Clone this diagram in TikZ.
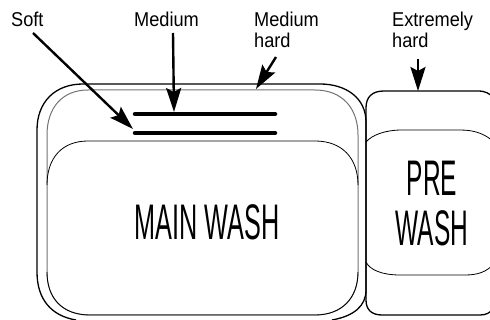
\documentclass[tikz,border=0pt]{standalone}
\usepackage{fontspec}
\setmainfont{Liberation Sans}
\usetikzlibrary{arrows.meta}
\tikzset{
 lab/.style={inner sep=0pt,align=left,anchor=north west,font=\fontsize{20}{21}\selectfont,xscale=.91},
 big/.style={inner sep=0pt,align=center,font=\fontsize{50}{50}\selectfont,xscale=.49},
 bigmain/.style={big,xscale=1.03},
 ptr/.style={line width=2.4pt,-{Stealth[length=24pt,width=15pt,inset=4pt]}},
 dark/.style={line width=1.3pt,black},
 soft/.style={line width=1pt,black!55},
 thin/.style={line width=.8pt,black},
 bar/.style={line width=4.5pt,line cap=round}
}
\begin{document}
\begin{tikzpicture}[x=1pt,y=-1pt]
\useasboundingbox (0,0) rectangle (490,320);
\begin{scope}
\clip (0,0) rectangle (490,320);
% outer tray
\draw[dark] (76,320) .. controls (52,316) and (37,300) .. (37,272) -- (37,130) .. controls (37,102) and (55,84) .. (83,84) -- (320,84) .. controls (346,84) and (366,98) .. (366,122) -- (366,290) .. controls (366,306) and (354,316) .. (332,320);
% main compartment
\draw[soft] (47,135) .. controls (47,108) and (62,90) .. (88,90) -- (315,90) .. controls (342,90) and (358,108) .. (358,135) -- (358,272) .. controls (358,298) and (342,315) .. (315,315) -- (90,315) .. controls (62,315) and (47,298) .. (47,272) -- cycle;
\draw[thin] (47,185) .. controls (47,158) and (62,141) .. (88,141) -- (315,141) .. controls (342,141) and (358,158) .. (358,185);
\draw[thin] (47,272) .. controls (47,298) and (62,315) .. (90,315) -- (315,315) .. controls (342,315) and (358,298) .. (358,272);
% pre wash compartment
\draw[dark] (366,122) -- (366,108) .. controls (366,97) and (372,91) .. (384,91) -- (478,91) .. controls (486,91) and (490,94) .. (494,98);
\draw[dark] (366,122) -- (366,300) .. controls (366,310) and (372,315) .. (382,315) -- (480,315) .. controls (486,315) and (490,313) .. (494,308);
\draw[thin] (366,142) .. controls (372,135) and (385,130) .. (402,130) -- (460,130) .. controls (475,130) and (485,134) .. (494,142);
\draw[thin] (366,262) .. controls (370,270) and (382,275) .. (400,275) -- (465,275) .. controls (478,275) and (486,272) .. (494,264);
\end{scope}
% detergent level bars
\coordinate (m1) at (135,114);
\coordinate (m2) at (275,114);
\coordinate (s1) at (135,133);
\coordinate (s2) at (275,133);
\draw[bar] (m1) -- (m2);
\draw[bar] (s1) -- (s2);
% labels
\node[lab] (soft) at (11,12) {Soft};
\node[lab] (medium) at (134,12) {Medium};
\node[lab] (mhard) at (254,12) {Medium\\hard};
\node[lab] (xhard) at (392,12) {Extremely\\hard};
\node[bigmain] (main) at (207,222) {MAIN WASH};
\node[big] (pre) at (432,204) {PRE\\WASH};
% arrow anchors
\coordinate (softs) at (33,33);
\coordinate (softe) at (133,129);
\coordinate (meds) at (173,33);
\coordinate (mede) at (174,112);
\coordinate (mhs) at (276,57);
\coordinate (mhe) at (256,89);
\coordinate (xhs) at (418,59);
\coordinate (xhe) at (418,91);
\draw[ptr] (softs) -- (softe);
\draw[ptr] (meds) -- (mede);
\draw[ptr] (mhs) -- (mhe);
\draw[ptr] (xhs) -- (xhe);
\end{tikzpicture}
\end{document}
